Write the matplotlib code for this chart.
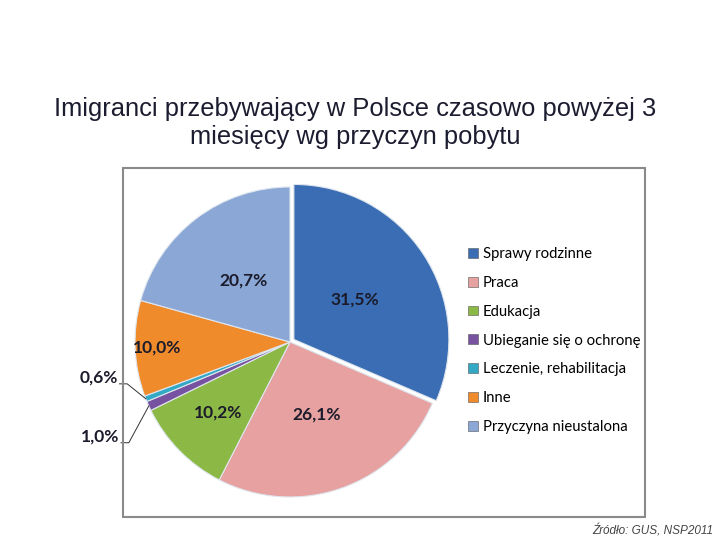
import numpy as np
import matplotlib
matplotlib.use("Agg")
import matplotlib.pyplot as plt
from matplotlib.patches import Patch, Rectangle

# ==========================================
# DATA
# ==========================================

categories = [
    "Sprawy rodzinne",
    "Praca",
    "Edukacja",
    "Ubieganie się o ochronę",
    "Leczenie, rehabilitacja",
    "Inne",
    "Przyczyna nieustalona",
]
shares = [31.5, 26.1, 10.2, 1.0, 0.6, 10.0, 20.7]
value_labels = ["31,5%", "26,1%", "10,2%", "1,0%", "0,6%", "10,0%", "20,7%"]

colors = ["#3a6db3", "#e6a1a0", "#8cb846", "#7652a0", "#33a9c6", "#f08b2c", "#8aa7d6"]
label_dist = [0.47, 0.5, 0.65, None, None, 0.86, 0.5]

title = "Imigranci przebywający w Polsce czasowo powyżej 3\nmiesięcy wg przyczyn pobytu"
source = "Źródło: GUS, NSP2011"

# ==========================================
# FIGURE
# ==========================================

fig = plt.figure(figsize=(7.2, 5.4), dpi=100)

W, H = 720, 540
cx, cy, R = 290, 342, 155
lim = 1.3
half = lim * R
ax = fig.add_axes([(cx - half) / W, 1 - (cy + half) / H, 2 * half / W, 2 * half / H])

explode = [0.03, 0, 0, 0, 0, 0, 0]

wedges, _ = ax.pie(
    shares,
    colors=colors,
    startangle=90,
    counterclock=False,
    explode=explode,
    radius=1,
    wedgeprops=dict(edgecolor="#dfe6ee", linewidth=0.8),
)

# pie() resets the limits, so set them afterwards
ax.set_xlim(-lim, lim)
ax.set_ylim(-lim, lim)
ax.set_aspect("equal")
ax.axis("off")

lab_font = dict(family="Lato", fontweight="bold", fontsize=12.5, color="#1b1b2b")

total = sum(shares)
cum = 0
mids = []
for v in shares:
    mid = 90 - (cum + v / 2) / total * 360
    mids.append(np.deg2rad(mid))
    cum += v

for i, d in enumerate(label_dist):
    if d is None:
        continue
    r = d + explode[i]
    ax.text(r * np.cos(mids[i]), r * np.sin(mids[i]), value_labels[i],
            ha="center", va="center", **lab_font)

# small slices with leader lines
outside = {4: (-1.11, -0.23), 3: (-1.10, -0.61)}
for i, (tx, ty) in outside.items():
    ex, ey = np.cos(mids[i]), np.sin(mids[i])
    kx = tx + 0.06
    ax.plot([tx + 0.01, kx, ex], [ty - 0.04, ty - 0.04, ey],
            color="#333333", lw=0.7)
    ax.text(tx, ty, value_labels[i], ha="right", va="center", **lab_font)

# ==========================================
# LEGEND / FRAME / TEXT
# ==========================================

handles = [Patch(facecolor=c, edgecolor="#555555", linewidth=0.4) for c in colors]
fig.legend(
    handles,
    categories,
    loc="upper left",
    bbox_to_anchor=(468 / W, 1 - 247 / H),
    frameon=False,
    prop=dict(family="Lato", size=10.7),
    handlelength=0.65,
    handleheight=0.65,
    handletextpad=0.35,
    labelspacing=1.0,
    borderpad=0,
    borderaxespad=0,
)

fig.patches.append(Rectangle((123 / W, 1 - 517 / H), 522 / W, 349 / H,
                             transform=fig.transFigure, fill=False,
                             edgecolor="#8a8a8a", linewidth=1.5))

fig.text(355 / W, 1 - 123 / H, title, ha="center", va="center",
         family="Liberation Sans", fontsize=18.4, color="#1c1c30",
         linespacing=1.2)

fig.text(713 / W, 1 - 531 / H, source, ha="right", va="center",
         family="Liberation Sans", style="italic", fontsize=8.5, color="#444444")

fig.savefig("out.png", dpi=100)
